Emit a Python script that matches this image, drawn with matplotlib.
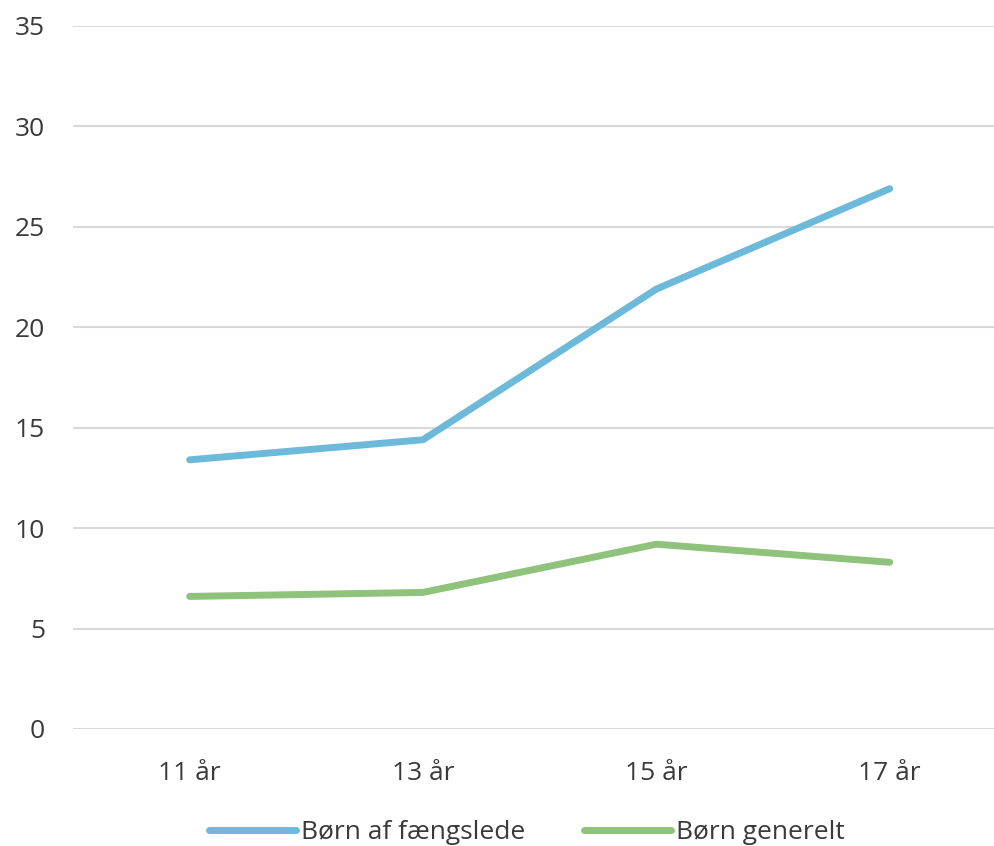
import matplotlib
matplotlib.use('Agg')
import matplotlib.pyplot as plt

plt.rcParams.update({
    "font.family": ["Open Sans", "DejaVu Sans"],
    "font.size": 19,
    "text.color": "#3a3a3a",
    "xtick.color": "#3a3a3a",
    "ytick.color": "#3a3a3a",
})

# Data
ages = ["11 år", "13 år", "15 år", "17 år"]
born_faengslede = [13.4, 14.4, 21.9, 26.9]
born_generelt = [6.6, 6.8, 9.2, 8.3]
y_ticks = [0, 5, 10, 15, 20, 25, 30, 35]

fig = plt.figure(figsize=(9.94, 8.46), dpi=100)
ax = fig.add_axes([0.0734, 0.1383, 0.9266, 0.831])

x = range(len(ages))
ax.plot(x, born_faengslede, color='#6cb9da', lw=5, solid_capstyle='round',
        solid_joinstyle='round', label='Børn af fængslede', zorder=3)
ax.plot(x, born_generelt, color='#8fc27b', lw=5, solid_capstyle='round',
        solid_joinstyle='round', label='Børn generelt', zorder=3)

ax.set_xlim(-0.5, 3.447)
ax.set_ylim(0, 35)
ax.set_yticks(y_ticks)
ax.set_xticks(list(x))
ax.set_xticklabels(ages)

ax.grid(axis='y', color='#d9d9d9', lw=1.5)
ax.set_axisbelow(True)
for s in ax.spines.values():
    s.set_visible(False)
ax.tick_params(axis='both', length=0)
ax.tick_params(axis='y', pad=20)
ax.tick_params(axis='x', pad=23)

fig.legend(loc='center', bbox_to_anchor=(0.53, 0.016), ncol=2, frameon=False,
           handlelength=3.3, handletextpad=0.2, columnspacing=2.2, borderpad=0)

fig.savefig('out.png', dpi=100)
